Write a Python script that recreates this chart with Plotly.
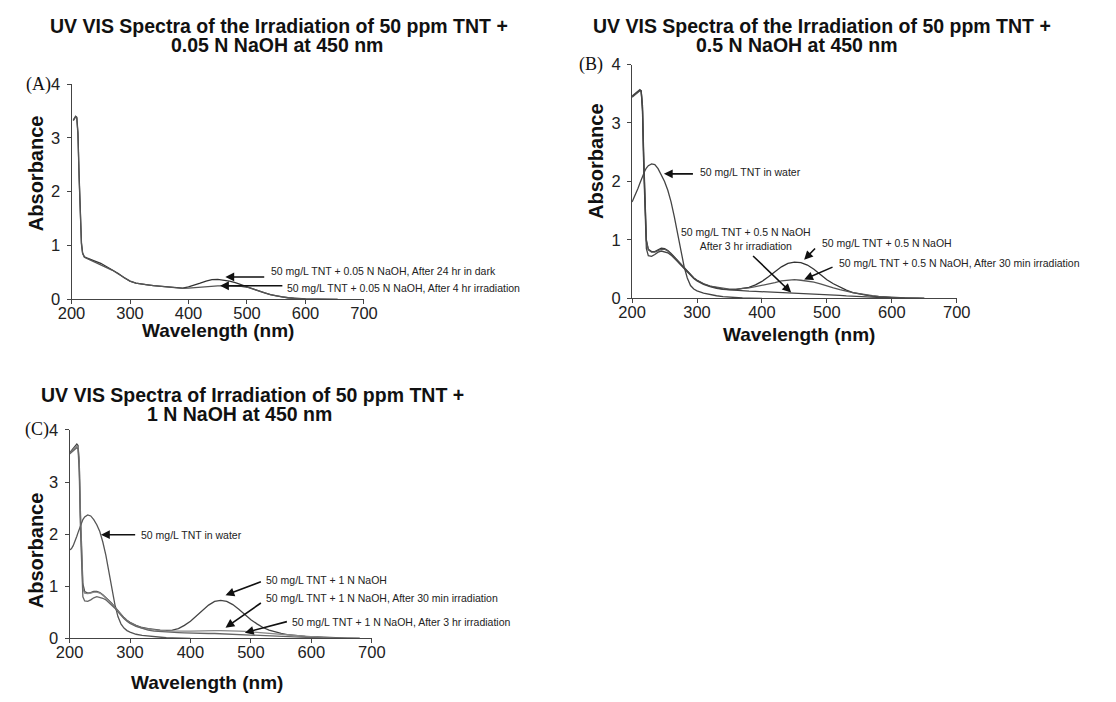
import plotly.graph_objects as go

# ---------------- DATA ----------------
# Panel A: 50 ppm TNT + 0.05 N NaOH
wl_A = [203, 205, 207, 209, 211, 213, 215, 217, 219, 222, 226, 230,
        240, 250, 260, 270, 280, 290, 300, 310, 320, 330, 340, 350, 360, 370, 380, 390,
        400, 410, 420, 430, 440, 450, 460, 470, 480, 490, 500, 510, 520, 530, 540, 550,
        560, 570, 580, 590, 600, 620, 640, 655]
A_dark24 = [3.33, 3.38, 3.40, 3.38, 3.10, 2.30, 1.50, 1.05, 0.86, 0.79, 0.77, 0.75,
            0.71, 0.67, 0.61, 0.55, 0.48, 0.40, 0.34, 0.30, 0.28, 0.27, 0.255, 0.245, 0.235, 0.22, 0.21, 0.21,
            0.23, 0.26, 0.30, 0.34, 0.365, 0.37, 0.36, 0.34, 0.31, 0.27, 0.23, 0.19, 0.15, 0.12, 0.09, 0.065,
            0.045, 0.03, 0.02, 0.012, 0.007, 0.003, 0.001, 0.0]
A_irr4 = [3.32, 3.37, 3.39, 3.37, 3.05, 2.25, 1.45, 1.02, 0.85, 0.78, 0.76, 0.74,
          0.69, 0.65, 0.60, 0.54, 0.47, 0.40, 0.34, 0.30, 0.28, 0.27, 0.255, 0.245, 0.235, 0.22, 0.21, 0.205,
          0.21, 0.22, 0.23, 0.24, 0.245, 0.25, 0.25, 0.25, 0.245, 0.24, 0.225, 0.19, 0.15, 0.12, 0.09, 0.065,
          0.045, 0.03, 0.02, 0.012, 0.007, 0.003, 0.001, 0.0]

# Panel B: 50 ppm TNT + 0.5 N NaOH
wl_B = [200, 203, 206, 209, 212, 214, 216, 218, 220, 222,
        225, 230, 235, 240, 245, 250, 255, 260, 265, 270, 275, 280, 285, 290, 295, 300,
        310, 320, 330, 340, 350, 360, 370, 380, 390, 400,
        410, 420, 430, 440, 450, 460, 470, 480, 490, 500,
        510, 520, 530, 540, 550, 560, 570, 580, 590, 600,
        620, 640, 650]
B_water = [1.65, 1.72, 1.80, 1.88, 1.97, 2.03, 2.09, 2.14, 2.19, 2.23,
           2.27, 2.30, 2.29, 2.22, 2.12, 2.00, 1.85, 1.65, 1.40, 1.12, 0.82, 0.55, 0.35, 0.22, 0.16, 0.13,
           0.09, 0.065, 0.045, 0.03, 0.02, 0.012, 0.007, 0.004, 0.002, 0.0]
B_naoh = [3.45, 3.48, 3.50, 3.53, 3.56, 3.55, 3.30, 2.40, 1.50, 1.00,
          0.84, 0.80, 0.80, 0.83, 0.86, 0.85, 0.82, 0.77, 0.71, 0.65, 0.58, 0.52, 0.46, 0.40, 0.35, 0.31,
          0.25, 0.21, 0.18, 0.16, 0.15, 0.15, 0.17, 0.19, 0.23, 0.29,
          0.37, 0.46, 0.54, 0.60, 0.62, 0.61, 0.57, 0.50, 0.41, 0.32,
          0.25, 0.19, 0.14, 0.10, 0.075, 0.055, 0.04, 0.028, 0.018, 0.011,
          0.005, 0.002, 0.0]
B_30min = [3.44, 3.47, 3.50, 3.52, 3.55, 3.54, 3.25, 2.30, 1.45, 0.98,
           0.83, 0.79, 0.79, 0.82, 0.84, 0.84, 0.81, 0.76, 0.70, 0.64, 0.58, 0.52, 0.46, 0.40, 0.35, 0.31,
           0.25, 0.21, 0.19, 0.17, 0.16, 0.16, 0.165, 0.18, 0.20, 0.22,
           0.25, 0.27, 0.30, 0.31, 0.32, 0.31, 0.30, 0.28, 0.25, 0.21,
           0.18, 0.15, 0.12, 0.10, 0.08, 0.06, 0.045, 0.035, 0.025, 0.017,
           0.008, 0.003, 0.0]
B_3hr = [3.46, 3.49, 3.51, 3.54, 3.57, 3.55, 3.20, 2.20, 1.35, 0.85,
         0.73, 0.72, 0.75, 0.79, 0.81, 0.80, 0.78, 0.74, 0.69, 0.63, 0.57, 0.51, 0.45, 0.39, 0.34, 0.30,
         0.24, 0.20, 0.17, 0.155, 0.145, 0.14, 0.13, 0.125, 0.12, 0.115,
         0.11, 0.105, 0.10, 0.10, 0.095, 0.09, 0.085, 0.08, 0.075, 0.07,
         0.06, 0.05, 0.042, 0.035, 0.028, 0.022, 0.017, 0.012, 0.008, 0.005,
         0.002, 0.001, 0.0]

# Panel C: 50 ppm TNT + 1 N NaOH
wl_C = [200, 203, 206, 209, 212, 214, 216, 218, 220, 222,
        225, 230, 235, 240, 245, 250, 255, 260, 265, 270, 275, 280, 285, 290, 295, 300,
        310, 320, 330, 340, 350, 360, 370, 380, 390, 400,
        410, 420, 430, 440, 450, 460, 470, 480, 490, 500,
        510, 520, 530, 540, 550, 560, 570, 580, 590, 600,
        620, 640, 660, 680]
C_water = [1.70, 1.72, 1.78, 1.86, 1.96, 2.03, 2.10, 2.17, 2.23, 2.28,
           2.33, 2.37, 2.35, 2.28, 2.18, 2.05, 1.85, 1.60, 1.28, 0.95, 0.65, 0.42, 0.28, 0.20, 0.15, 0.12,
           0.08, 0.06, 0.045, 0.03, 0.02, 0.013, 0.008, 0.004, 0.002, 0.0]
C_naoh = [3.56, 3.60, 3.65, 3.70, 3.73, 3.70, 3.40, 2.40, 1.50, 1.05,
          0.90, 0.87, 0.88, 0.90, 0.90, 0.88, 0.84, 0.79, 0.73, 0.67, 0.60, 0.53, 0.46, 0.40, 0.35, 0.31,
          0.25, 0.21, 0.19, 0.17, 0.16, 0.155, 0.16, 0.19, 0.25, 0.33,
          0.43, 0.54, 0.64, 0.71, 0.73, 0.71, 0.65, 0.56, 0.46, 0.36,
          0.28, 0.21, 0.16, 0.12, 0.095, 0.075, 0.06, 0.05, 0.04, 0.032,
          0.02, 0.012, 0.005, 0.0]
C_30min = [3.55, 3.58, 3.62, 3.66, 3.69, 3.67, 3.35, 2.30, 1.40, 0.95,
           0.87, 0.86, 0.87, 0.89, 0.89, 0.87, 0.83, 0.78, 0.72, 0.66, 0.59, 0.52, 0.45, 0.39, 0.34, 0.30,
           0.24, 0.20, 0.18, 0.16, 0.15, 0.145, 0.14, 0.14, 0.14, 0.14,
           0.145, 0.15, 0.15, 0.15, 0.15, 0.15, 0.145, 0.14, 0.135, 0.125,
           0.115, 0.10, 0.09, 0.08, 0.07, 0.06, 0.05, 0.04, 0.032, 0.025,
           0.013, 0.006, 0.002, 0.0]
C_3hr = [3.54, 3.57, 3.60, 3.63, 3.66, 3.64, 3.20, 2.10, 1.20, 0.80,
         0.72, 0.71, 0.74, 0.78, 0.80, 0.79, 0.77, 0.74, 0.69, 0.64, 0.58, 0.51, 0.44, 0.38, 0.33, 0.29,
         0.23, 0.19, 0.16, 0.14, 0.13, 0.12, 0.115, 0.11, 0.105, 0.10,
         0.10, 0.10, 0.095, 0.095, 0.09, 0.09, 0.085, 0.08, 0.075, 0.07,
         0.062, 0.055, 0.048, 0.04, 0.034, 0.028, 0.022, 0.017, 0.012, 0.008,
         0.004, 0.002, 0.001, 0.0]

x_ticks = [200, 300, 400, 500, 600, 700]
y_ticks = [0, 1, 2, 3, 4]

# ---------------- FIGURE ----------------
W, H = 1116, 702
def px(x):
    return x / W
def py(y):
    return 1 - y / H

fig = go.Figure()

def add_line(x, y, xa, ya, color, name):
    fig.add_trace(go.Scatter(x=x[:len(y)], y=y, mode="lines", xaxis=xa, yaxis=ya,
                             line=dict(color=color, width=1.3), name=name, showlegend=False))

add_line(wl_A, A_dark24, "x", "y", "#333333", "A dark 24 hr")
add_line(wl_A, A_irr4, "x", "y", "#555555", "A 4 hr irradiation")
add_line(wl_B, B_water, "x2", "y2", "#444444", "B water")
add_line(wl_B, B_naoh, "x2", "y2", "#333333", "B NaOH")
add_line(wl_B, B_30min, "x2", "y2", "#555555", "B 30 min")
add_line(wl_B, B_3hr, "x2", "y2", "#444444", "B 3 hr")
add_line(wl_C, C_water, "x3", "y3", "#555555", "C water")
add_line(wl_C, C_naoh, "x3", "y3", "#444444", "C NaOH")
add_line(wl_C, C_30min, "x3", "y3", "#888888", "C 30 min")
add_line(wl_C, C_3hr, "x3", "y3", "#666666", "C 3 hr")

tickfont = dict(family="Liberation Sans, Arial", size=16.5, color="#222222")
axis_common = dict(showgrid=False, zeroline=False, showline=True, linecolor="#444444", linewidth=1,
                   ticks="outside", ticklen=4, tickcolor="#444444", tickfont=tickfont, fixedrange=True)

# panel pixel boxes: (left, right, top, bottom)
boxA = (59, 359, 77, 298)
boxB = (634, 967, 57, 297)
boxC = (57, 367, 432, 646)

def set_axes(suffix, box, anchor_x, anchor_y):
    l, r, t, b = box
    fig.layout["xaxis" + suffix] = dict(domain=[px(l), px(r)], range=[200, 700], tickvals=x_ticks,
                                        anchor=anchor_y, ticklabelstandoff=-5, **axis_common)
    fig.layout["yaxis" + suffix] = dict(domain=[py(b), py(t)], range=[0, 4], tickvals=y_ticks,
                                        anchor=anchor_x, ticklabelstandoff=3, **axis_common)

set_axes("", boxA, "x", "y")
set_axes("2", boxB, "x2", "y2")
set_axes("3", boxC, "x3", "y3")

ann = []
bold = dict(family="Liberation Sans, Arial", size=19.5, color="#111111")
def paper_text(text, x, y, font, angle=0, xanchor="center"):
    ann.append(dict(text=text, x=px(x), y=py(y), xref="paper", yref="paper", showarrow=False,
                    xanchor=xanchor, yanchor="middle", font=font, textangle=angle))

# titles
paper_text("<b>UV VIS Spectra of the Irradiation of 50 ppm TNT +</b>", 272, 17, bold)
paper_text("<b>0.05 N NaOH at 450 nm</b>", 270, 37, bold)
paper_text("<b>UV VIS Spectra of the Irradiation of 50 ppm TNT +</b>", 829, 17, bold)
paper_text("<b>0.5 N NaOH at 450 nm</b>", 803, 37, bold)
paper_text("<b>UV VIS Spectra of Irradiation of 50 ppm TNT +</b>", 245, 396, bold)
paper_text("<b>1 N NaOH at 450 nm</b>", 231, 416, bold)

# axis titles
absf = dict(family="Liberation Sans, Arial", size=20, color="#111111")
paper_text("<b>Absorbance</b>", 22, 168, absf, angle=-90)
paper_text("<b>Absorbance</b>", 597, 156, absf, angle=-90)
paper_text("<b>Absorbance</b>", 22, 555, absf, angle=-90)
axt = dict(family="Liberation Sans, Arial", size=19, color="#111111")
paper_text("<b>Wavelength (nm)</b>", 209, 330, axt)
paper_text("<b>Wavelength (nm)</b>", 805, 334, axt)
paper_text("<b>Wavelength (nm)</b>", 198, 691, axt)

# panel letters
serif = dict(family="Liberation Serif, Times New Roman", size=18, color="#111111")
paper_text("(A)", 40, 77, serif, xanchor="right")
paper_text("(B)", 606, 57, serif, xanchor="right")
paper_text("(C)", 38, 432, serif, xanchor="right")

# curve labels and arrows
small = dict(family="Liberation Sans, Arial", size=10.5, color="#222222")
def data_text(text, xa, ya, x, y, xanchor="left"):
    ann.append(dict(text=text, x=x, y=y, xref=xa, yref=ya, showarrow=False, xanchor=xanchor,
                    yanchor="middle", font=small, align="center"))
def arrow(xa, ya, x_head, y_head, x_tail, y_tail):
    ann.append(dict(text="", x=x_head, y=y_head, xref=xa, yref=ya, ax=x_tail, ay=y_tail,
                    axref=xa, ayref=ya, showarrow=True, arrowhead=2, arrowsize=1.1, arrowwidth=1.6,
                    arrowcolor="#111111", standoff=0, startstandoff=0))

data_text("50 mg/L TNT + 0.05 N NaOH, After 24 hr in dark", "x", "y", 537, 0.52)
arrow("x", "y", 463, 0.416, 532, 0.416)
data_text("50 mg/L TNT + 0.05 N NaOH, After 4 hr irradiation", "x", "y", 565, 0.205)
arrow("x", "y", 454, 0.253, 563, 0.253)

data_text("50 mg/L TNT in water", "x2", "y2", 301, 2.17)
arrow("x2", "y2", 249, 2.13, 296, 2.13)
data_text("50 mg/L TNT + 0.5 N NaOH<br>After 3 hr irradiation", "x2", "y2", 375, 1.02, xanchor="center")
arrow("x2", "y2", 445, 0.1, 384, 0.75)
data_text("50 mg/L TNT + 0.5 N NaOH", "x2", "y2", 489, 0.95)
arrow("x2", "y2", 465, 0.66, 484, 0.88)
data_text("50 mg/L TNT + 0.5 N NaOH, After 30 min irradiation", "x2", "y2", 516, 0.61)
arrow("x2", "y2", 465, 0.324, 511, 0.546)

data_text("50 mg/L TNT in water", "x3", "y3", 315, 1.99)
arrow("x3", "y3", 252, 1.99, 311, 1.99)
data_text("50 mg/L TNT + 1 N NaOH", "x3", "y3", 522, 1.13)
arrow("x3", "y3", 458, 0.83, 519, 1.10)
data_text("50 mg/L TNT + 1 N NaOH, After 30 min irradiation", "x3", "y3", 522, 0.78)
arrow("x3", "y3", 458, 0.205, 519, 0.70)
data_text("50 mg/L TNT + 1 N NaOH, After 3 hr irradiation", "x3", "y3", 565, 0.32)
arrow("x3", "y3", 490, 0.11, 562, 0.33)

fig.update_layout(width=W, height=H, margin=dict(l=0, r=0, t=0, b=0),
                  paper_bgcolor="white", plot_bgcolor="white", annotations=ann,
                  showlegend=False)

fig.write_html("out.html", config={"displayModeBar": False})
